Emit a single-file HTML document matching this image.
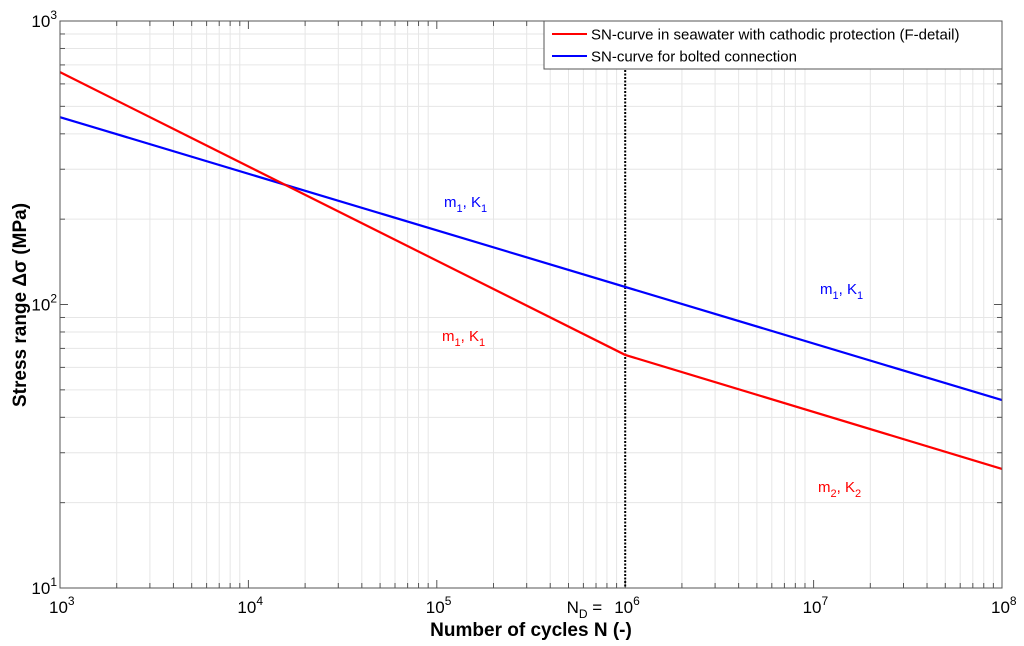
<!DOCTYPE html>
<html><head><meta charset="utf-8"><style>
html,body{margin:0;padding:0;background:#fff;}
svg{display:block;font-family:"Liberation Sans",Arial,sans-serif;}
</style></head><body>
<svg id="chart" width="1024" height="646" viewBox="0 0 1024 646">
<rect x="0" y="0" width="1024" height="646" fill="#fff"/>
<g id="grid"></g>
<g id="ticks"></g>
<g id="series"></g>
<rect x="60" y="21" width="942" height="567" fill="none" stroke="#555" stroke-width="1"/>
<g id="labels"></g>
<text x="531" y="636" font-size="19" font-weight="bold" text-anchor="middle">Number of cycles N (-)</text>
<text transform="translate(26,305) rotate(-90)" font-size="19" font-weight="bold" text-anchor="middle">Stress range Δσ (MPa)</text>
<text x="444" y="207" font-size="15" fill="#0000ff">m<tspan font-size="11" dy="5">1</tspan><tspan dy="-5">, K</tspan><tspan font-size="11" dy="5">1</tspan></text>
<text x="820" y="294" font-size="15" fill="#0000ff">m<tspan font-size="11" dy="5">1</tspan><tspan dy="-5">, K</tspan><tspan font-size="11" dy="5">1</tspan></text>
<text x="442" y="341" font-size="15" fill="#ff0000">m<tspan font-size="11" dy="5">1</tspan><tspan dy="-5">, K</tspan><tspan font-size="11" dy="5">1</tspan></text>
<text x="818" y="492" font-size="15" fill="#ff0000">m<tspan font-size="11" dy="5">2</tspan><tspan dy="-5">, K</tspan><tspan font-size="11" dy="5">2</tspan></text>
<g>
<rect x="544" y="21" width="458" height="48" fill="#fff" stroke="#555" stroke-width="1"/>
<line x1="552" y1="34" x2="587" y2="34" stroke="#ff0000" stroke-width="2"/>
<text x="591" y="39.5" font-size="15">SN-curve in seawater with cathodic protection (F-detail)</text>
<line x1="552" y1="56" x2="587" y2="56" stroke="#0000ff" stroke-width="2"/>
<text x="591" y="61.5" font-size="15">SN-curve for bolted connection</text>
</g>
</svg>
<script>
const redN=[1e3,1e6,1e8];
const redS=[660,66.4,26.3];
const blueN=[1e3,1e8];
const blueS=[458,46];
const xDecades=[3,4,5,6,7,8];
const yDecades=[1,2,3];
const NS="http://www.w3.org/2000/svg";
const L=60,R=1002,T=21,B=588;
function xs(v){return L+(Math.log10(v)-3)/5*(R-L);}
function ys(v){return B-(Math.log10(v)-1)/2*(B-T);}
function mk(tag,attrs,parent){const e=document.createElementNS(NS,tag);for(const k in attrs)e.setAttribute(k,attrs[k]);parent.appendChild(e);return e;}
const grid=document.getElementById('grid'),ticks=document.getElementById('ticks'),labels=document.getElementById('labels'),series=document.getElementById('series');
for(let d=3;d<8;d++)for(let m=1;m<10;m++){const x=xs(m*Math.pow(10,d));
 if(m>1){const g=mk('line',{x1:x,y1:T,x2:x,y2:B,stroke:'#e6e6e6','stroke-width':1},grid);}
 const len=m==1?8:5;mk('line',{x1:x,y1:B,x2:x,y2:B-len,stroke:'#555'},ticks);mk('line',{x1:x,y1:T,x2:x,y2:T+len,stroke:'#555'},ticks);}
for(let d=1;d<3;d++)for(let m=1;m<10;m++){const y=ys(m*Math.pow(10,d));
 if(m>1){const g=mk('line',{x1:L,y1:y,x2:R,y2:y,stroke:'#e6e6e6','stroke-width':1},grid);}
 const len=m==1?8:5;mk('line',{x1:L,y1:y,x2:L+len,y2:y,stroke:'#555'},ticks);mk('line',{x1:R,y1:y,x2:R-len,y2:y,stroke:'#555'},ticks);}
xDecades.forEach(d=>{const x=xs(Math.pow(10,d));
 const t=mk('text',{x:x-11,y:613,'font-size':17},labels);
 
 t.innerHTML='10<tspan font-size="12" dy="-8">'+d+'</tspan>';});
const nd=mk('text',{x:xs(1e6)-23,y:613,'font-size':17,'text-anchor':'end'},labels);

nd.innerHTML='N<tspan font-size="12" dy="5">D</tspan><tspan dy="-5"> =</tspan>';
yDecades.forEach(d=>{const y=ys(Math.pow(10,d));
 const t=mk('text',{x:57,y:y+6,'font-size':17,'text-anchor':'end'},labels);
 
 t.innerHTML='10<tspan font-size="12" dy="-8">'+d+'</tspan>';});
const v=mk('line',{x1:xs(1e6),y1:T,x2:xs(1e6),y2:B,stroke:'#000','stroke-width':2,'stroke-dasharray':'2,1.5'},series);

function line(N,S,c,name){const p=mk('polyline',{points:N.map((n,i)=>xs(n)+','+ys(S[i])).join(' '),fill:'none',stroke:c,'stroke-width':2.2},series);
 }
line(blueN,blueS,'#0000ff','blue-bolted-curve');
line(redN,redS,'#ff0000','red-seawater-curve');
</script>
</body></html>
